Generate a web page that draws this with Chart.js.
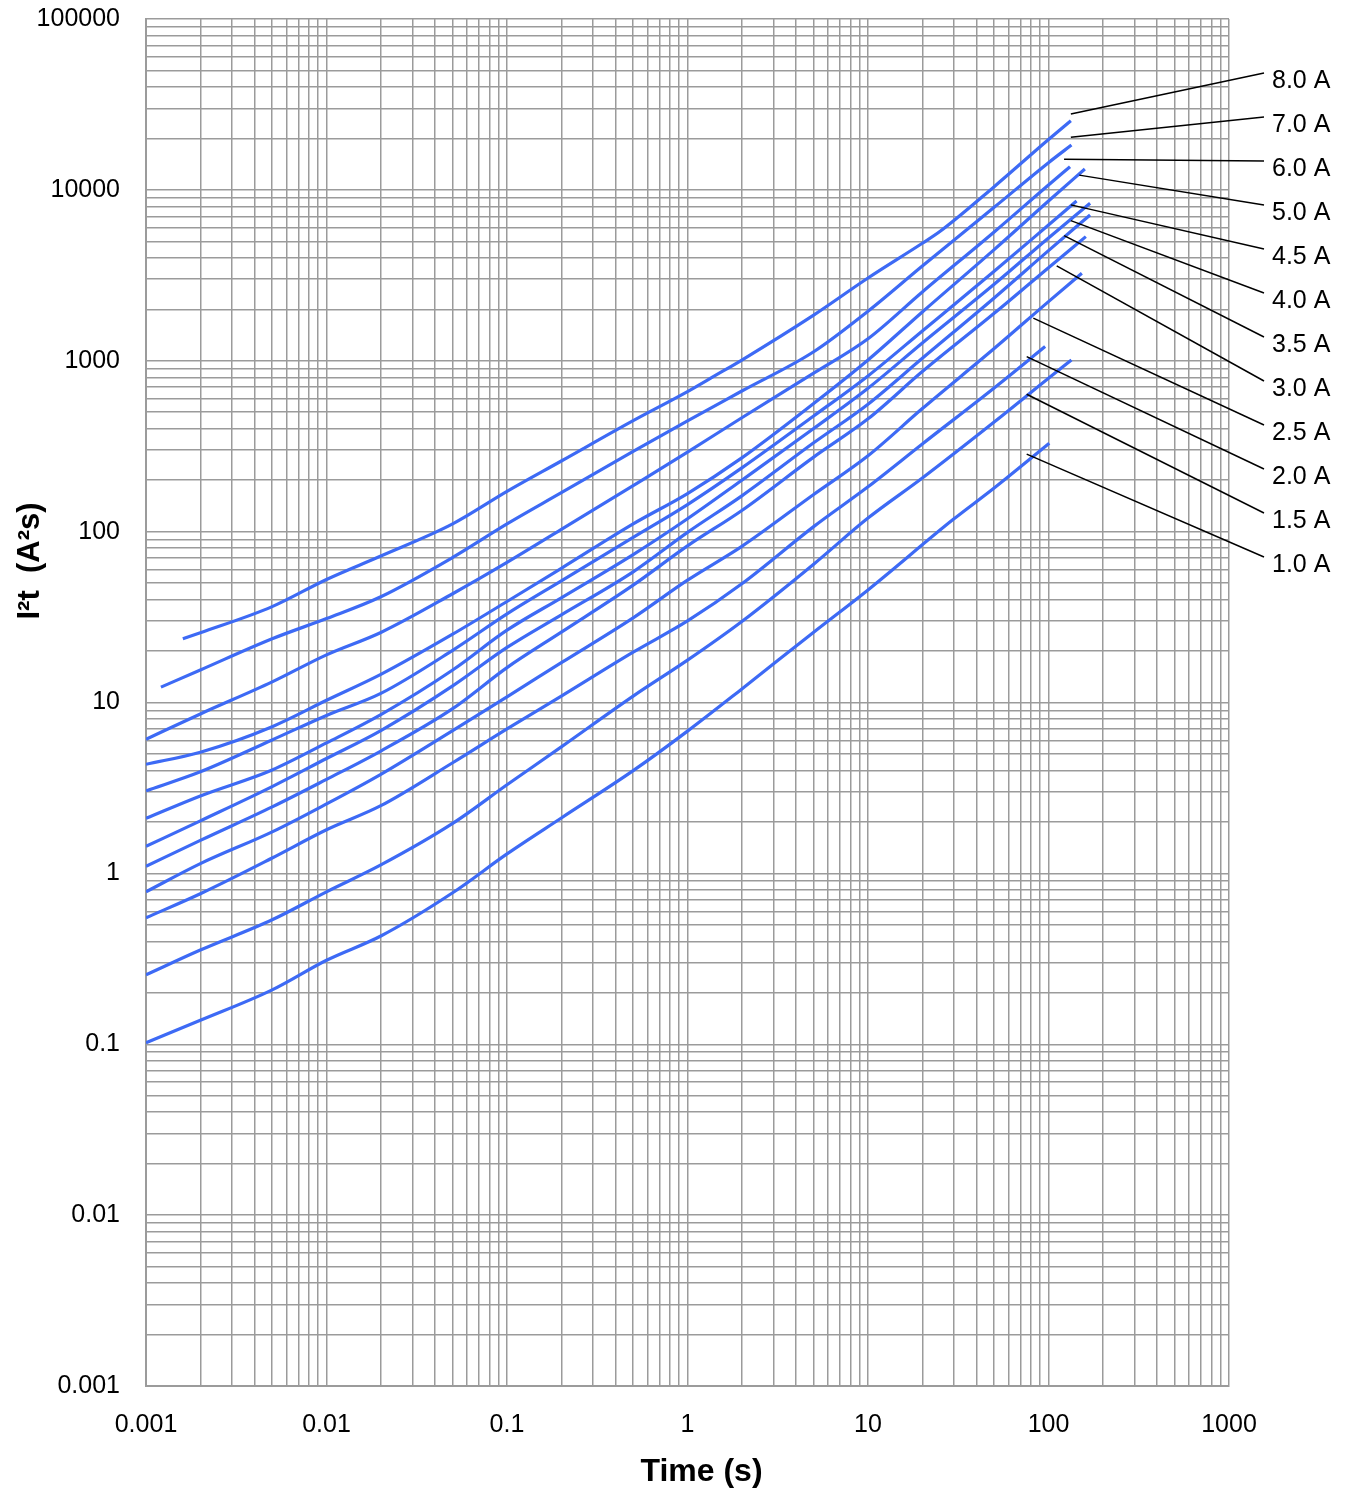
<!DOCTYPE html>
<html>
<head>
<meta charset="utf-8">
<script src="https://cdn.jsdelivr.net/npm/chart.js@4.4.1/dist/chart.umd.min.js"></script>
<style>
  html, body { margin: 0; padding: 0; background: #fff; }
</style>
</head>
<body>
<canvas id="grafico" width="1346" height="1492"></canvas>
<script>
// tick labels
const timeLabels = ['0.001', '0.01', '0.1', '1', '10', '100', '1000'];
const i2tLabels = ['0.001', '0.01', '0.1', '1', '10', '100', '1000', '10000', '100000'];

// curve names, top to bottom
const currents = ['8.0 A', '7.0 A', '6.0 A', '5.0 A', '4.5 A', '4.0 A', '3.5 A', '3.0 A', '2.5 A', '2.0 A', '1.5 A', '1.0 A'];

// time (s) and I2t (A2s)
const t80 = [0.0016, 0.002, 0.005, 0.01, 0.02, 0.05, 0.1, 0.2, 0.5, 1, 1.42, 2, 5, 10, 20, 25, 50, 100, 133];
const i80 = [23.6, 25.6, 36.4, 52.5, 72, 111, 172, 259, 446, 660, 818, 1010, 1850, 3050, 4870, 5700, 10440, 19700, 25400];

const t70 = [0.00121, 0.002, 0.005, 0.01, 0.02, 0.05, 0.1, 0.2, 0.5, 1, 2, 5, 10, 20, 50, 100, 134];
const i70 = [12.3, 15.5, 23.6, 31, 41.6, 70.6, 111, 169, 295, 445, 665, 1129, 1950, 3586, 7907, 14430, 18300];

const t60 = [0.001, 0.002, 0.005, 0.01, 0.02, 0.05, 0.1, 0.2, 0.5, 1, 2, 5, 10, 20, 50, 100, 131.6];
const i60 = [6.1, 8.57, 13.2, 19, 25.7, 43.3, 66, 103, 186, 292, 464, 846, 1345, 2527, 5670, 10680, 13670];

const t50 = [0.001, 0.002, 0.005, 0.01, 0.02, 0.05, 0.1, 0.2, 0.5, 1, 2, 5, 10, 20, 50, 100, 159];
const i50 = [4.35, 5.12, 7.22, 10.3, 14.6, 25.1, 39, 61, 111, 167, 270, 562, 1010, 1930, 4470, 8610, 13250];

const t45 = [0.001, 0.002, 0.005, 0.01, 0.02, 0.05, 0.1, 0.2, 0.5, 1, 2, 5, 10, 20, 50, 100, 143];
const i45 = [3.04, 3.93, 6.04, 8.4, 11.3, 20.2, 33, 51.5, 92.6, 144, 236, 475, 815, 1494, 3338, 6230, 8610];

const t40 = [0.001, 0.002, 0.005, 0.01, 0.02, 0.05, 0.1, 0.2, 0.5, 1, 2, 5, 10, 20, 50, 100, 170];
const i40 = [2.10, 2.84, 4.03, 5.8, 8.5, 15.5, 26.5, 41, 73.4, 119, 200, 401, 690, 1271, 2802, 5230, 8344];

const t35 = [0.001, 0.002, 0.005, 0.01, 0.02, 0.05, 0.1, 0.2, 0.5, 1, 2, 5, 10, 20, 50, 100, 170];
const i35 = [1.44, 2.03, 3.22, 4.7, 6.85, 12.5, 21, 32.6, 58.2, 99, 162, 331, 557, 1034, 2330, 4410, 7131];

const t30 = [0.001, 0.002, 0.005, 0.01, 0.02, 0.05, 0.1, 0.2, 0.5, 1, 2, 5, 10, 20, 50, 100, 161];
const i30 = [1.10, 1.56, 2.45, 3.55, 5.2, 9.2, 16, 25.8, 48.6, 82.5, 133, 273, 457, 864, 1895, 3506, 5325];

const t25 = [0.001, 0.002, 0.005, 0.01, 0.02, 0.05, 0.1, 0.2, 0.5, 1, 2, 5, 10, 20, 50, 100, 153];
const i25 = [0.78, 1.14, 1.75, 2.55, 3.8, 6.85, 10.8, 17.1, 31.3, 52, 82, 165, 278, 525, 1178, 2218, 3250];

const t20 = [0.001, 0.002, 0.005, 0.01, 0.02, 0.05, 0.1, 0.2, 0.5, 1, 2, 5, 10, 20, 50, 95.8];
const i20 = [0.55, 0.76, 1.23, 1.8, 2.49, 4.44, 7.0, 10.9, 19.7, 30, 49.5, 107, 183, 326, 693, 1210];

const t15 = [0.001, 0.002, 0.005, 0.01, 0.02, 0.05, 0.1, 0.2, 0.5, 1, 2, 5, 10, 20, 50, 100, 134];
const i15 = [0.255, 0.356, 0.535, 0.78, 1.12, 1.96, 3.3, 5.5, 10.9, 17.7, 29.8, 64.5, 120, 206, 438, 790, 1011];

const t10 = [0.001, 0.002, 0.005, 0.01, 0.02, 0.05, 0.1, 0.2, 0.5, 1, 2, 5, 10, 29.7, 50, 101];
const i10 = [0.102, 0.138, 0.208, 0.31, 0.43, 0.77, 1.3, 2.11, 3.99, 6.8, 12, 25.8, 45.6, 118, 180, 329];

// where each label's leader line touches its curve (time, I2t)
const leaderT = [133, 133, 122, 148, 133, 133, 122, 111, 82.4, 75.7, 75.7, 75.7];
const leaderV = [27800, 20300, 15100, 12200, 8170, 6610, 5400, 3590, 1775, 1057, 637, 284];

const series = [[t80, i80], [t70, i70], [t60, i60], [t50, i50], [t45, i45], [t40, i40],
                [t35, i35], [t30, i30], [t25, i25], [t20, i20], [t15, i15], [t10, i10]];

const FONT = "'Liberation Sans', Arial, sans-serif";
const GRID = '#9b9b9b';

function armarPuntos(ts, vs) {
    return ts.map((t, k) => ({ x: t, y: vs[k] }));
}

// every 1..9 x 10^n so the minor grid gets drawn
function ticksLog(minExp, maxExp) {
    const out = [];
    for (let e = minExp; e < maxExp; e++) {
        for (let m = 1; m <= 9; m++) out.push({ value: parseFloat(m + 'e' + e) });
    }
    out.push({ value: parseFloat('1e' + maxExp) });
    return out;
}

function etiqueta(labels, minExp) {
    return function (value) {
        const lg = Math.log10(value);
        if (Math.abs(lg - Math.round(lg)) > 1e-6) return '';
        return labels[Math.round(lg) - minExp];
    };
}

const datasets = series.map((s, i) => ({
    label: currents[i],
    data: armarPuntos(s[0], s[1]),
    showLine: true,
    borderColor: '#3d6af5',
    borderWidth: 3.2,
    pointRadius: 0,
    cubicInterpolationMode: 'monotone',
    fill: false
}));

// curve labels with leader lines, and both axis titles
const etiquetasCurvas = {
    id: 'etiquetasCurvas',
    afterDatasetsDraw(chart) {
        const { ctx, chartArea, scales } = chart;
        ctx.save();
        ctx.strokeStyle = '#000';
        ctx.lineWidth = 1.5;
        ctx.fillStyle = '#000';
        ctx.font = '25px ' + FONT;
        ctx.textBaseline = 'middle';
        ctx.textAlign = 'left';
        currents.forEach((nombre, i) => {
            const ly = chartArea.top + 62 + i * 44;
            const x0 = scales.x.getPixelForValue(leaderT[i]);
            const y0 = scales.y.getPixelForValue(leaderV[i]);
            ctx.beginPath();
            ctx.moveTo(x0, y0);
            ctx.lineTo(chartArea.right + 35, ly - 8);
            ctx.stroke();
            ctx.fillText(nombre, chartArea.right + 43, ly);
        });

        ctx.font = 'bold 32px ' + FONT;
        ctx.textAlign = 'center';
        ctx.fillText('Time (s)', (chartArea.left + chartArea.right) / 2 + 14, chart.height - 20);

        ctx.font = 'bold 31px ' + FONT;
        ctx.translate(30, chartArea.top + 542);
        ctx.rotate(-Math.PI / 2);
        ctx.fillText('I²t  (A²s)', 0, 0);
        ctx.restore();
    }
};

new Chart(document.getElementById('grafico'), {
    type: 'scatter',
    data: { datasets: datasets },
    options: {
        responsive: false,
        animation: false,
        devicePixelRatio: 1,
        layout: { padding: { top: 19, right: 117, left: 0, bottom: 0 } },
        plugins: { legend: { display: false }, tooltip: { enabled: false } },
        scales: {
            x: {
                type: 'logarithmic',
                min: 0.001,
                max: 1000,
                afterBuildTicks: (axis) => { axis.ticks = ticksLog(-3, 3); },
                afterFit: (axis) => {
                    axis.height = 106;
                    axis.paddingLeft = 0;
                    axis.paddingRight = 0;
                },
                ticks: {
                    autoSkip: false,
                    maxRotation: 0,
                    padding: 24,
                    color: '#000',
                    font: { family: FONT, size: 25 },
                    callback: etiqueta(timeLabels, -3)
                },
                grid: { color: GRID, lineWidth: 1.5, drawTicks: false },
                border: { color: GRID, width: 2 }
            },
            y: {
                type: 'logarithmic',
                min: 0.001,
                max: 100000,
                afterBuildTicks: (axis) => { axis.ticks = ticksLog(-3, 5); },
                afterFit: (axis) => {
                    axis.width = 146;
                    axis.paddingTop = 0;
                    axis.paddingBottom = 0;
                },
                ticks: {
                    autoSkip: false,
                    padding: 26,
                    color: '#000',
                    font: { family: FONT, size: 25 },
                    callback: etiqueta(i2tLabels, -3)
                },
                grid: { color: GRID, lineWidth: 1.5, drawTicks: false },
                border: { color: GRID, width: 2 }
            }
        }
    },
    plugins: [etiquetasCurvas]
});
</script>
</body>
</html>
